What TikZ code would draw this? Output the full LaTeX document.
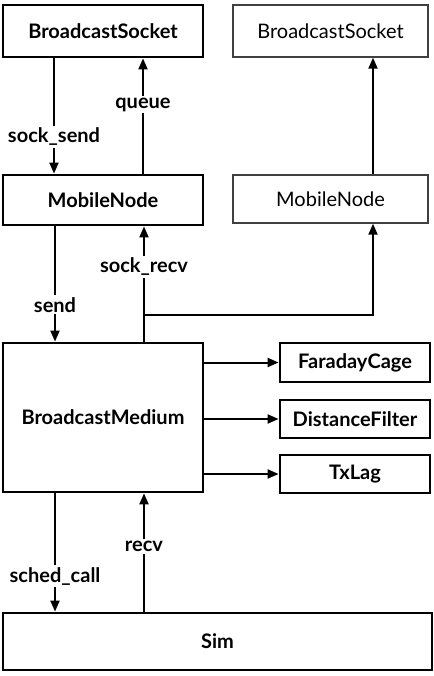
\documentclass[tikz,border=0pt]{standalone}
\usepackage{fontspec}
\setmainfont{Lato}
\usetikzlibrary{arrows.meta}
\begin{document}
\begin{tikzpicture}[x=1pt,y=-1pt,
  boxL/.style={draw, line width=2.8pt, font=\fontsize{20}{24}\selectfont\bfseries, inner sep=0pt, rectangle},
  boxR/.style={draw=black!75, line width=1.4pt, font=\fontsize{20}{24}\selectfont, inner sep=0pt, rectangle},
  arr/.style={line width=2pt, -{Triangle[length=11pt,width=9pt]}},
  lab/.style={fill=white, font=\fontsize{20}{24}\selectfont\bfseries, inner sep=2pt}]
\useasboundingbox (0,0) rectangle (433,676);
\node[boxL, minimum width=200pt, minimum height=52pt] (bs1) at (103,31) {BroadcastSocket};
\node[boxR, minimum width=195pt, minimum height=52pt] (bs2) at (330.5,31) {BroadcastSocket};
\node[boxL, minimum width=200pt, minimum height=50pt] (mn1) at (103,200) {MobileNode};
\node[boxR, minimum width=195pt, minimum height=48pt] (mn2) at (330.5,199) {MobileNode};
\node[boxL, minimum width=200pt, minimum height=149pt] (bm) at (103,417.5) {BroadcastMedium};
\node[boxL, minimum width=150pt, minimum height=39pt] (fc) at (355,362.5) {FaradayCage};
\node[boxL, minimum width=150pt, minimum height=38pt] (df) at (355,419) {DistanceFilter};
\node[boxL, minimum width=150pt, minimum height=38pt] (tx) at (355,474) {TxLag};
\node[boxL, minimum width=429pt, minimum height=57pt] (sim) at (217.5,641.5) {Sim};

\draw[arr] ([xshift=-49pt]bs1.south) -- node[lab, pos=0.68] {sock\_send} ([xshift=-49pt]mn1.north);
\draw[arr] ([xshift=40pt]mn1.north) -- node[lab, pos=0.6] {queue} ([xshift=40pt]bs1.south);
\draw[arr] ([xshift=42.5pt]mn2.north) -- ([xshift=42.5pt]bs2.south);
\draw[arr] ([xshift=-48pt]mn1.south) -- node[lab, pos=0.68] {send} ([xshift=-48pt]bm.north);
\coordinate (br) at (144,315);
\draw[arr] ([xshift=41pt]bm.north) -- node[lab, pos=0.65] {sock\_recv} ([xshift=41pt]mn1.south);
\draw[arr] (br) -| ([xshift=42.5pt]mn2.south);
\draw[arr] (bm.east |- fc.west) -- (fc.west);
\draw[arr] (bm.east |- df.west) -- (df.west);
\draw[arr] (bm.east |- tx.west) -- (tx.west);
\draw[arr] ([xshift=-48pt]bm.south) -- node[lab, pos=0.7] {sched\_call} ([xshift=-48pt]sim.north -| bm.south);
\draw[arr] ([xshift=41pt]sim.north -| bm.south) -- node[lab, pos=0.55] {recv} ([xshift=41pt]bm.south);
\end{tikzpicture}
\end{document}
